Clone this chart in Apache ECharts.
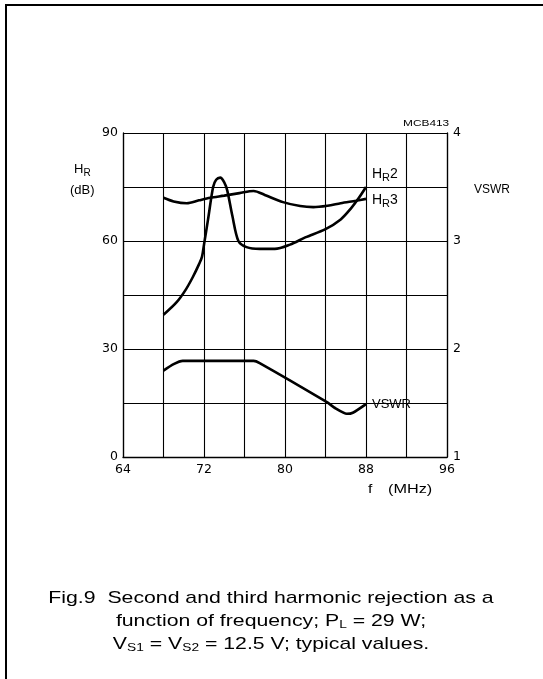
<!DOCTYPE html>
<html>
<head>
<meta charset="utf-8">
<script src="https://cdn.jsdelivr.net/npm/echarts@6/dist/echarts.min.js"></script>
<style>
html,body{margin:0;padding:0;background:#fff;}
#c{width:543px;height:679px;}
</style>
</head>
<body>
<div id="c"></div>
<script>
// Frequency ticks (MHz)
var xTicks = [64, 72, 80, 88, 96];
var hrTicks = [0, 30, 60, 90];
var vswrTicks = [1, 2, 3, 4];

// H_R2 (dB) vs f (MHz)
var hr2 = [[68,39.5],[69.3,43],[70.2,46.5],[70.9,50],[71.5,53.5],[71.8,55.6],[72,59],[72.4,66],[72.9,75],[73.2,77],[73.6,77.6],[74,76.3],[74.3,74],[74.8,67],[75.4,60],[76.2,58.3],[77.5,57.8],[79,57.8],[80.5,59],[82,61],[84,63.3],[85.5,66],[86.5,69],[87.3,72],[88,75]];
// H_R3 (dB) vs f (MHz)
var hr3 = [[68,72],[69,71],[70.3,70.5],[71.5,71.3],[72.6,72],[74,72.6],[75.5,73.3],[76.9,73.9],[78,72.8],[79.8,70.8],[81.5,69.7],[82.8,69.4],[84.2,69.8],[85.5,70.5],[87,71.2],[88,71.7]];
// VSWR vs f (MHz)
var vswr = [[68,1.80],[69,1.86],[69.9,1.89],[72,1.89],[76.9,1.89],[77.5,1.87],[84.1,1.51],[85,1.45],[86.1,1.40],[86.7,1.41],[88,1.49]];

var FONT = 'Liberation Sans, Arial, sans-serif';
var TFONT = 'DejaVu Sans, sans-serif';
var chart = echarts.init(document.getElementById('c'), null, {renderer:'canvas'});
var lineS = {color:'#000', width:2.6};
chart.setOption({
  animation:false,
  backgroundColor:'#fff',
  grid:{left:123, right:96, top:133, bottom:222, containLabel:false},
  xAxis:{type:'value', min:64, max:96, interval:4,
    axisLine:{show:true, lineStyle:{color:'#000', width:1.3}},
    axisTick:{show:false},
    axisLabel:{color:'#000', fontFamily:TFONT, fontSize:12.5, margin:6,
      formatter:function(v){return xTicks.indexOf(v)>=0 ? String(v) : '';}},
    splitLine:{show:true, lineStyle:{color:'#000', width:1.1}}
  },
  yAxis:[
    {type:'value', min:0, max:90, interval:15,
      axisLine:{show:true, lineStyle:{color:'#000', width:1.3}},
      axisTick:{show:false},
      axisLabel:{color:'#000', fontFamily:TFONT, fontSize:12.5, margin:5,
        formatter:function(v){return hrTicks.indexOf(v)>=0 ? String(v) : '';}},
      splitLine:{show:true, lineStyle:{color:'#000', width:1.1}}
    },
    {type:'value', min:1, max:4, interval:1, position:'right',
      axisLine:{show:true, lineStyle:{color:'#000', width:1.3}},
      axisTick:{show:false},
      axisLabel:{color:'#000', fontFamily:TFONT, fontSize:12.5, margin:6,
        formatter:function(v){return vswrTicks.indexOf(v)>=0 ? String(v) : '';}},
      splitLine:{show:false}
    }
  ],
  series:[
    {type:'line', name:'HR2', data:hr2, yAxisIndex:0, smooth:0.3, showSymbol:false, lineStyle:lineS},
    {type:'line', name:'HR3', data:hr3, yAxisIndex:0, smooth:0.3, showSymbol:false, lineStyle:lineS},
    {type:'line', name:'VSWR', data:vswr, yAxisIndex:1, smooth:0.2, showSymbol:false, lineStyle:lineS}
  ],
  graphic:[
    {type:'polyline', shape:{points:[[6,679],[6,5],[543,5]]}, style:{stroke:'#000', lineWidth:2, fill:null}},
    {type:'text', left:74, top:163, style:{text:'H{s|R}', fontFamily:FONT, fontSize:13, fill:'#000',
      rich:{s:{fontSize:10, fontFamily:FONT, padding:[7,0,0,0]}}}},
    {type:'text', left:70, top:184, style:{text:'(dB)', fontFamily:FONT, fontSize:13, fill:'#000'}},
    {type:'text', left:474, top:184, style:{text:'VSWR', fontFamily:FONT, fontSize:12, fill:'#000'}},
    {type:'text', x:403, y:123, scaleX:1.25, style:{text:'MCB413', fontFamily:FONT, fontSize:9.5, fill:'#000', verticalAlign:'middle'}},
    {type:'text', left:372, top:167, style:{text:'H{s|R}2', fontFamily:FONT, fontSize:14, fill:'#000',
      rich:{s:{fontSize:11, fontFamily:FONT, padding:[7,0,0,0]}}}},
    {type:'text', left:372, top:193, style:{text:'H{s|R}3', fontFamily:FONT, fontSize:14, fill:'#000',
      rich:{s:{fontSize:11, fontFamily:FONT, padding:[7,0,0,0]}}}},
    {type:'text', left:369, top:397, style:{text:'VSWR', fontFamily:FONT, fontSize:13, fill:'#000',
      backgroundColor:'#fff', padding:[1,3,1,3]}},
    {type:'text', x:368, y:489, scaleX:1.2, style:{text:'f', fontFamily:FONT, fontSize:13, fill:'#000', verticalAlign:'middle'}},
    {type:'text', x:388, y:489, scaleX:1.25, style:{text:'(MHz)', fontFamily:FONT, fontSize:13, fill:'#000', verticalAlign:'middle'}},
    {type:'text', x:271, y:598, scaleX:1.25, style:{text:'Fig.9  Second and third harmonic rejection as a', fontFamily:FONT, fontSize:17, fill:'#000', align:'center', verticalAlign:'middle'}},
    {type:'text', x:271, y:621, scaleX:1.25, style:{text:'function of frequency; P{s|L} = 29 W;', fontFamily:FONT, fontSize:17, fill:'#000', align:'center', verticalAlign:'middle',
      rich:{s:{fontSize:11, fontFamily:FONT, padding:[8,0,0,0]}}}},
    {type:'text', x:271, y:644, scaleX:1.25, style:{text:'V{s|S1} = V{s|S2} = 12.5 V; typical values.', fontFamily:FONT, fontSize:17, fill:'#000', align:'center', verticalAlign:'middle',
      rich:{s:{fontSize:11, fontFamily:FONT, padding:[8,0,0,0]}}}}
  ]
});
</script>
</body>
</html>
